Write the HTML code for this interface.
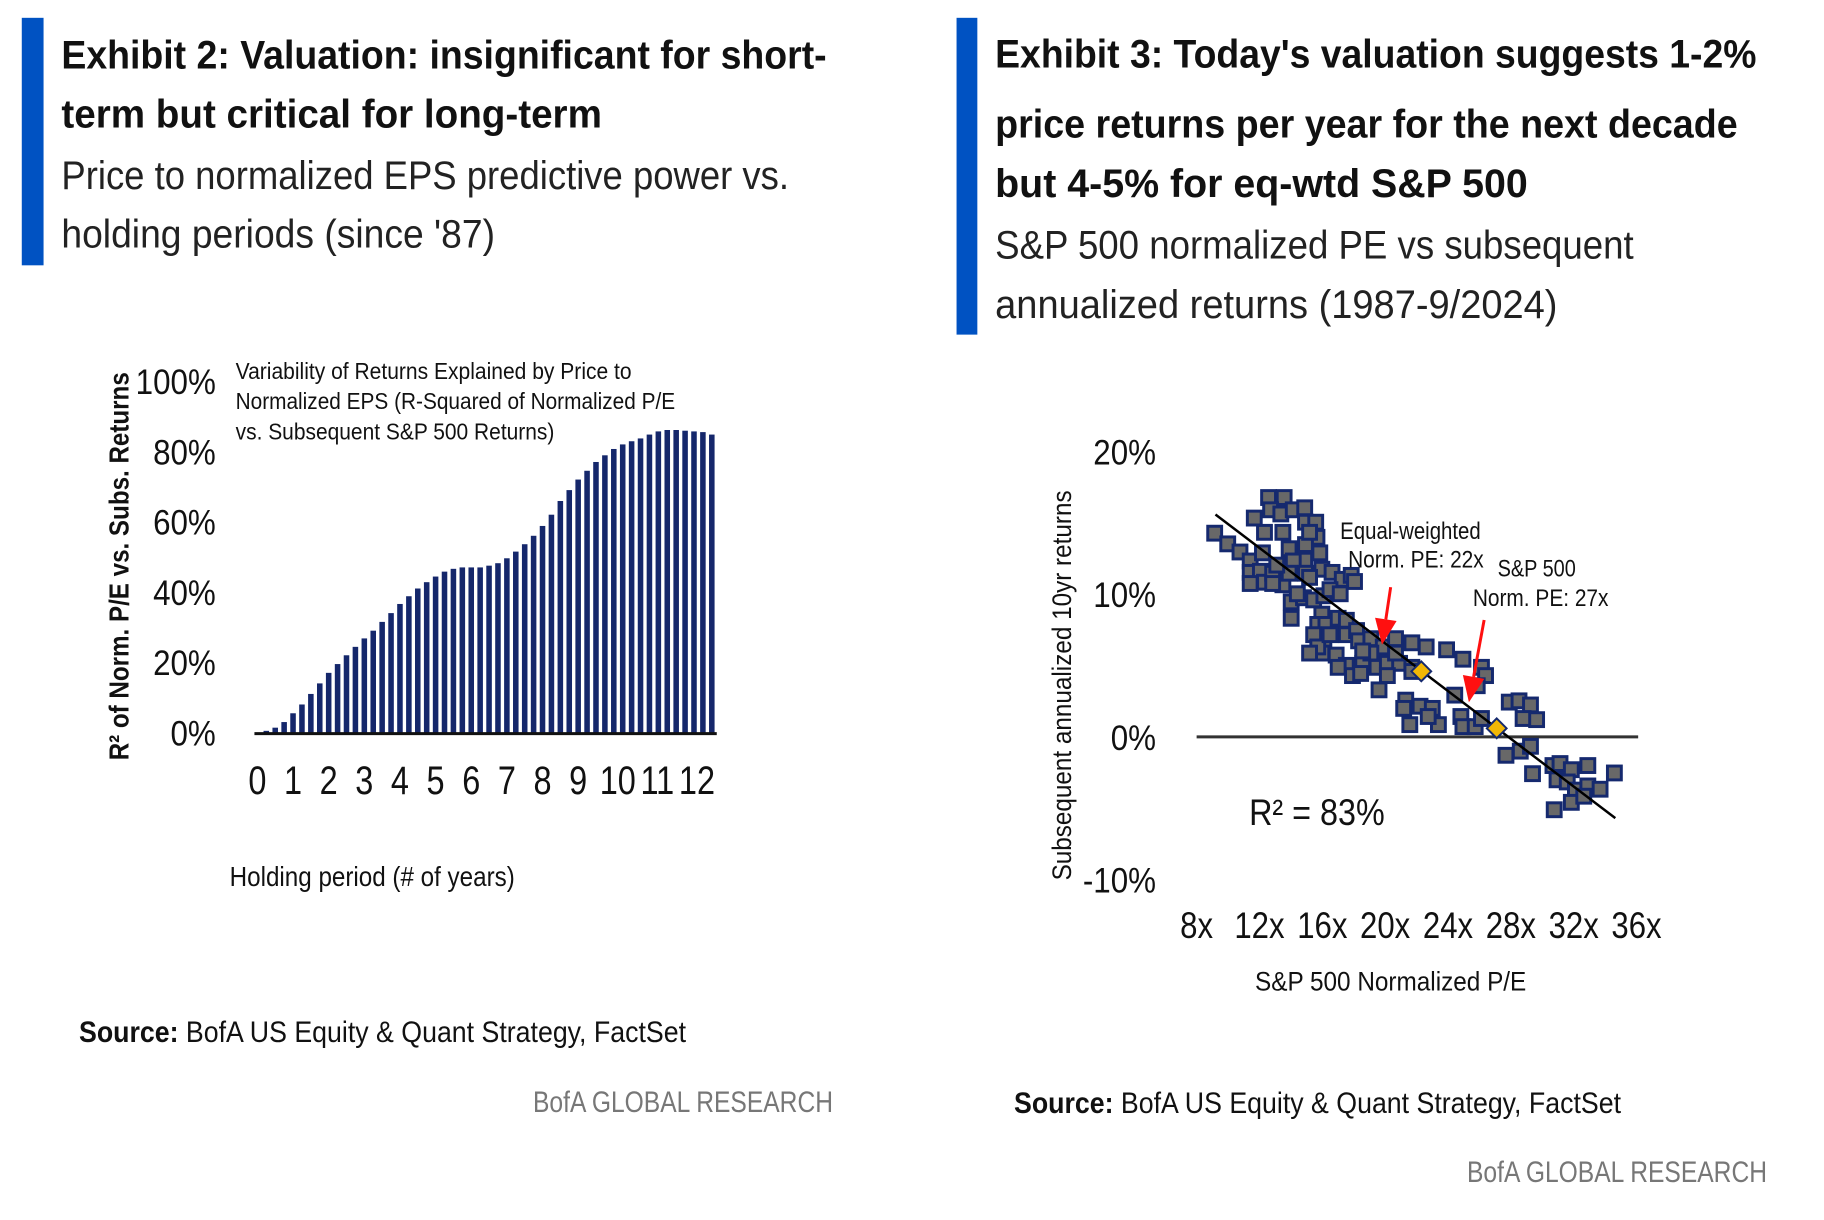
<!DOCTYPE html>
<html><head><meta charset="utf-8"><style>
html,body{margin:0;padding:0;background:#fff;}
svg{display:block;font-family:"Liberation Sans",sans-serif;}
</style></head><body>
<svg id="root" width="1824" height="1220" viewBox="0 0 1824 1220">
<g transform="scale(0.99)">
<!-- Exhibit 2 header -->
<rect x="22" y="18" width="22" height="250" fill="#0052c2"/>
<text x="62" y="69" font-size="40" font-weight="bold" fill="#111" textLength="773" lengthAdjust="spacingAndGlyphs">Exhibit 2: Valuation: insignificant for short-</text>
<text x="62" y="129" font-size="40" font-weight="bold" fill="#111" textLength="546" lengthAdjust="spacingAndGlyphs">term but critical for long-term</text>
<text x="62" y="191" font-size="40" fill="#222" textLength="735" lengthAdjust="spacingAndGlyphs">Price to normalized EPS predictive power vs.</text>
<text x="62" y="250" font-size="40" fill="#222" textLength="438" lengthAdjust="spacingAndGlyphs">holding periods (since '87)</text>

<!-- Exhibit 2 chart -->
<g id="chart1">
<text x="238" y="383" font-size="23" fill="#111" textLength="400" lengthAdjust="spacingAndGlyphs">Variability of Returns Explained by Price to</text>
<text x="238" y="413" font-size="23" fill="#111" textLength="444" lengthAdjust="spacingAndGlyphs">Normalized EPS (R-Squared of Normalized P/E</text>
<text x="238" y="444" font-size="23" fill="#111" textLength="322" lengthAdjust="spacingAndGlyphs">vs. Subsequent S&amp;P 500 Returns)</text>
<text transform="translate(130,572) rotate(-90)" text-anchor="middle" font-size="28" font-weight="bold" fill="#111" textLength="392" lengthAdjust="spacingAndGlyphs">R² of Norm. P/E vs. Subs. Returns</text>
<text x="232" y="895" font-size="28" fill="#111" textLength="288" lengthAdjust="spacingAndGlyphs">Holding period (# of years)</text>
</g>
</g>

<!-- Exhibit 3 header -->
<g transform="translate(912,0) scale(0.99) translate(-912,0)">
<rect x="957" y="18" width="21" height="320" fill="#0052c2"/>
<text x="996" y="68" font-size="40" font-weight="bold" fill="#111" textLength="769" lengthAdjust="spacingAndGlyphs">Exhibit 3: Today's valuation suggests 1-2%</text>
<text x="996" y="139" font-size="40" font-weight="bold" fill="#111" textLength="750" lengthAdjust="spacingAndGlyphs">price returns per year for the next decade</text>
<text x="996" y="199" font-size="40" font-weight="bold" fill="#111" textLength="538" lengthAdjust="spacingAndGlyphs">but 4-5% for eq-wtd S&amp;P 500</text>
<text x="996" y="261" font-size="40" fill="#222" textLength="645" lengthAdjust="spacingAndGlyphs">S&amp;P 500 normalized PE vs subsequent</text>
<text x="996" y="321" font-size="40" fill="#222" textLength="568" lengthAdjust="spacingAndGlyphs">annualized returns (1987-9/2024)</text>
</g>

<g transform="translate(1060,430) scale(0.99) translate(-1060,-430)">
<g id="chart2">
<text transform="translate(1071,688) rotate(-90)" text-anchor="middle" font-size="27" fill="#111" textLength="394" lengthAdjust="spacingAndGlyphs">Subsequent annualized 10yr returns</text>
<text x="1257" y="996" font-size="27" fill="#111" textLength="274" lengthAdjust="spacingAndGlyphs">S&amp;P 500 Normalized P/E</text>
</g>
</g>

<!-- Footers -->
<text x="79" y="1042" font-size="30" fill="#111" textLength="607" lengthAdjust="spacingAndGlyphs"><tspan font-weight="bold">Source:</tspan> BofA US Equity &amp; Quant Strategy, FactSet</text>
<text x="533" y="1112" font-size="30" fill="#777" textLength="300" lengthAdjust="spacingAndGlyphs">BofA GLOBAL RESEARCH</text>
<text x="1014" y="1113" font-size="30" fill="#111" textLength="607" lengthAdjust="spacingAndGlyphs"><tspan font-weight="bold">Source:</tspan> BofA US Equity &amp; Quant Strategy, FactSet</text>
<text x="1467" y="1182" font-size="30" fill="#777" textLength="300" lengthAdjust="spacingAndGlyphs">BofA GLOBAL RESEARCH</text>
</svg>
<script>
// ---- Chart 1 data ----
const barValues = [0, 0.5, 1.4, 3, 5.5, 8, 11, 14, 17, 19.5, 22, 24.4, 26.8, 29, 31.5, 34, 36.6, 38.8, 41, 42.8, 44.4, 45.8, 46.6, 47, 47, 47, 47.5, 48.2, 49.6, 51.5, 53.6, 56, 58.8, 62, 65.9, 69, 72, 74.5, 77, 78.9, 80.7, 82, 82.9, 83.7, 84.8, 85.7, 86.1, 86.1, 85.9, 85.7, 85.5, 84.8];
const yTicks1 = [0, 20, 40, 60, 80, 100];
const xTickLabels1 = ["0","1","2","3","4","5","6","7","8","9","10","11","12"];

// ---- Chart 2 data ----
const peValues = [9.15,9.98,10.76,11.41,11.41,12.06,11.41,12.32,12.84,13.49,12.84,12.58,13.57,12.71,13.36,14.15,14.88,14.93,15.58,15.66,13.49,12.32,11.67,13.89,14.88,15.84,14.15,13.89,14.93,15.97,16.62,17.27,17.84,18.05,14.02,14.8,15.45,16.1,16.49,17.14,14.02,15.97,15.71,16.23,17.01,17.53,16.1,15.97,16.88,17.53,18.18,18.31,19.09,19.88,20.66,21.7,22.61,23.91,24.95,26.13,26.39,25.86,17.53,17.01,17.92,18.57,19.48,20.14,20.92,21.7,19.61,21.31,21.18,22.22,23.0,21.57,23.39,22.74,24.43,24.82,24.95,25.73,26.13,27.9,28.52,29.25,28.78,29.64,27.69,28.6,29.25,29.38,30.68,31.13,31.85,32.9,30.94,31.59,32.11,32.9,33.68,34.59,30.76,31.85,32.64,21.7,20.66,19.09,15.45,15.71,15.19,16.49,18.57,18.44,20.14,15.19,14.41,13.1,12.19,14.93,15.19];
const returnValues = [14.29,13.54,12.97,12.34,11.54,11.62,10.76,10.85,11.48,10.67,10.76,16.79,16.79,15.93,15.64,15.93,16.07,15.06,15.06,14.0,14.35,14.35,15.35,13.2,12.4,12.91,12.34,11.48,11.48,11.76,11.54,11.05,11.33,10.9,9.47,9.76,9.61,9.9,10.33,10.04,8.32,8.61,7.89,7.89,8.32,8.18,6.6,5.88,5.74,7.17,7.46,6.74,6.89,6.31,6.89,6.6,6.31,6.11,5.45,4.88,4.3,3.59,5.02,4.88,4.3,5.16,4.88,5.16,5.16,4.88,3.3,2.58,2.0,2.15,2.0,0.86,0.86,1.43,2.93,1.43,0.72,0.72,1.29,2.44,2.53,2.24,1.29,1.21,-1.29,-1.0,-0.66,-2.58,-2.01,-1.87,-2.3,-2.01,-3.01,-3.16,-3.73,-3.44,-3.67,-2.53,-5.11,-4.59,-4.16,4.59,5.88,5.88,7.17,6.31,5.88,7.17,6.03,4.45,4.3,11.19,10.04,12.05,12.91,13.49,14.35];
const currentPE = [22.3, 27.1];
const currentReturns = [4.6, 0.6];
const trendPE = [9.2, 34.65];
const trendReturns = [15.6, -5.7];
const yTicks2 = [-10, 0, 10, 20];
const xTicks2 = [8, 12, 16, 20, 24, 28, 32, 36];

const NS = "http://www.w3.org/2000/svg";
function mk(tag, attrs, parent) {
  const e = document.createElementNS(NS, tag);
  for (const k in attrs) e.setAttribute(k, attrs[k]);
  parent.appendChild(e);
  return e;
}

// Chart 1 axes
const c1 = document.getElementById("chart1");
const x1 = k => 260 + 9 * k;
const y1 = v => 740 - v * 3.55;
barValues.forEach((v, k) => {
  if (v <= 0) return;
  const r = mk("rect", {x: x1(k) - 2.8, y: y1(v), width: 5.6, height: y1(0) - y1(v), fill: "#15276b"}, c1);
  
  
});
const base1 = mk("line", {x1: 257, x2: 724, y1: 741, y2: 741, stroke: "#111", "stroke-width": 3}, c1);


yTicks1.forEach(t => {
  const tx = mk("text", {x: 218, y: y1(t) + 13, "text-anchor": "end", "font-size": 36, fill: "#111", transform: "translate(" + (218 * 0.12) + ",0) scale(0.88,1)"}, c1);
  tx.textContent = t + "%";
  
  
});
xTickLabels1.forEach((l, i) => {
  let cx = x1(i * 4);
  if (i >= 10) cx += (i - 9) * 4;
  const tx = mk("text", {x: cx / 0.82, y: 802, "text-anchor": "middle", "font-size": 40, fill: "#111", transform: "scale(0.82,1)"}, c1);
  tx.textContent = l;
  
  
});

// Chart 2
const c2 = document.getElementById("chart2");
const x2 = pe => 1198 + (pe - 8) * 15.87;
const y2 = r => 740 - r * 14.4;
yTicks2.forEach(t => {
  const tx = mk("text", {x: 1157 / 0.88, y: y2(t) + 13, "text-anchor": "end", "font-size": 36, fill: "#111", transform: "scale(0.88,1)"}, c2);
  tx.textContent = t + "%";
  
  
});
xTicks2.forEach(t => {
  const tx = mk("text", {x: x2(t) / 0.85, y: 943, "text-anchor": "middle", "font-size": 37, fill: "#111", transform: "scale(0.85,1)"}, c2);
  tx.textContent = t + "x";
  
  
});
const zl = mk("line", {x1: 1198, x2: 1644, y1: y2(0), y2: y2(0), stroke: "#333", "stroke-width": 3}, c2);


peValues.forEach((pe, i) => {
  const r = returnValues[i];
  const s = mk("rect", {x: x2(pe) - 7, y: y2(r) - 7, width: 14, height: 14, fill: "#686868", stroke: "#15296e", "stroke-width": 3}, c2);
  
  
});
const tl = mk("line", {x1: x2(trendPE[0]), y1: y2(trendReturns[0]), x2: x2(trendPE[1]), y2: y2(trendReturns[1]), stroke: "#000", "stroke-width": 2.5}, c2);


currentPE.forEach((pe, i) => {
  const cx = x2(pe), cy = y2(currentReturns[i]);
  const d = mk("polygon", {points: (cx) + "," + (cy - 10) + " " + (cx + 10) + "," + cy + " " + cx + "," + (cy + 10) + " " + (cx - 10) + "," + cy, fill: "#f2b705", stroke: "#15296e", "stroke-width": 2}, c2);
  
  
});
const arrowTails = [[20.35, 10.5], [26.3, 8.2]];
const arrowTips = [[19.8, 6.46], [25.33, 2.43]];
arrowTips.forEach((tip, i) => {
  const tx0 = x2(arrowTails[i][0]), ty0 = y2(arrowTails[i][1]);
  const tx1 = x2(tip[0]), ty1 = y2(tip[1]);
  const ang = Math.atan2(ty1 - ty0, tx1 - tx0);
  const hl = 26, hw = 11;
  const bx = tx1 - hl * Math.cos(ang), by = ty1 - hl * Math.sin(ang);
  const ln = mk("line", {x1: tx0, y1: ty0, x2: bx, y2: by, stroke: "#ff1010", "stroke-width": 3}, c2);
  
  
  const px = -Math.sin(ang), py = Math.cos(ang);
  const hd = mk("polygon", {points: tx1 + "," + ty1 + " " + (bx + hw * px) + "," + (by + hw * py) + " " + (bx - hw * px) + "," + (by - hw * py), fill: "#ff1010"}, c2);
  
  
});
function label(txt, x, y, fs, len, name) {
  const t = mk("text", {x: x, y: y, "font-size": fs, fill: "#111", textLength: len, lengthAdjust: "spacingAndGlyphs"}, c2);
  t.textContent = txt;
  
  
}
label("Equal-weighted", 1343, 540, 24, 142, "equal-weighted-label");
label("Norm. PE: 22x", 1351, 569, 24, 137, "equal-weighted-pe-label");
label("S&P 500", 1502, 578, 24, 79, "sp500-label");
label("Norm. PE: 27x", 1477, 608, 24, 137, "sp500-pe-label");
label("R² = 83%", 1251, 829, 37, 137, "r-squared-label");
</script>
</body></html>
